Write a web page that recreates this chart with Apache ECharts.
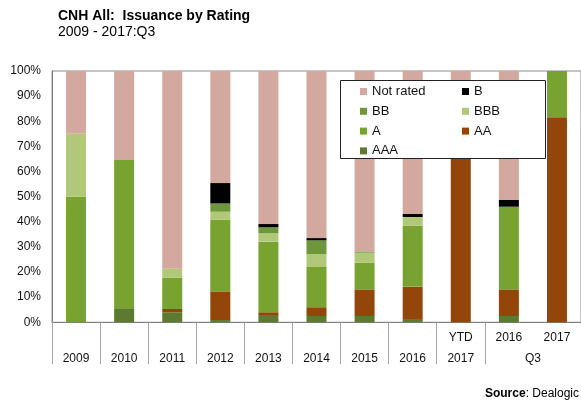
<!DOCTYPE html>
<html>
<head>
<meta charset="utf-8">
<script src="https://cdn.jsdelivr.net/npm/echarts@6/dist/echarts.min.js"></script>
<style>
  html, body { margin: 0; padding: 0; background: #fff; }
  #chart { width: 581px; height: 403px; }
</style>
</head>
<body>
<div id="chart"></div>
<script>
// Categories (issuance periods)
const categories = ['2009', '2010', '2011', '2012', '2013', '2014', '2015', '2016', '2017 YTD', '2016 Q3', '2017 Q3'];
// Two-row axis labels
const topRow    = ['', '', '', '', '', '', '', '', 'YTD', '2016', '2017'];
const bottomRow = ['2009', '2010', '2011', '2012', '2013', '2014', '2015', '2016', '2017', '', ''];
const groupLabel = 'Q3';

// Share of issuance by rating, % of total
const aaa      = [0, 5.6, 4.0, 0.9, 2.9, 2.5, 2.5, 1.3, 0, 2.5, 0];
const aa       = [0, 0, 1.3, 11.4, 1.1, 3.5, 10.6, 12.9, 88, 10.6, 81.6];
const a        = [50, 59, 12.5, 28.5, 28.1, 16, 10.6, 24.2, 0, 32.9, 18.4];
const bbb      = [25, 0, 3.5, 3.2, 3.3, 5.1, 4.0, 3.5, 0, 0, 0];
const bb       = [0, 0, 0, 3.3, 2.4, 5.5, 0.3, 0, 0, 0, 0];
const b        = [0, 0, 0, 8.1, 1.3, 0.9, 0, 1.2, 0, 2.7, 0];
const notRated = [25, 35.4, 78.7, 44.6, 60.9, 66.5, 72.0, 56.9, 12, 51.3, 0];

const yTicks = { min: 0, max: 100, interval: 10 };

const FONT = "'Liberation Sans', Arial, sans-serif";

const stackDefs = [
  { name: 'AAA', data: aaa, color: '#5C7A30' },
  { name: 'AA', data: aa, color: '#944509' },
  { name: 'A', data: a, color: '#78A330' },
  { name: 'BBB', data: bbb, color: '#B1C878' },
  { name: 'BB', data: bb, color: '#6E963B' },
  { name: 'B', data: b, color: '#000000' },
  { name: 'Not rated', data: notRated, color: '#D3A99F' }
];

const chart = echarts.init(document.getElementById('chart'), null, { renderer: 'canvas' });

const legendCommon = {
  orient: 'vertical',
  top: 84.5,
  padding: 0,
  itemWidth: 7,
  itemHeight: 7,
  itemGap: 5.8,
  icon: 'rect',
  selectedMode: false,
  z: 20,
  textStyle: { fontFamily: FONT, fontSize: 13, color: '#111', lineHeight: 14 }
};

chart.setOption({
  animation: false,
  title: [
    {
      text: 'CNH All:  Issuance by Rating',
      subtext: '2009 - 2017:Q3',
      left: 58,
      top: 9,
      padding: 0,
      itemGap: 2,
      textStyle: { fontFamily: FONT, fontSize: 14, fontWeight: 'bold', color: '#000' },
      subtextStyle: { fontFamily: FONT, fontSize: 14, color: '#000' }
    },
    {
      text: '{b|Source}: Dealogic',
      right: 2,
      top: 388,
      padding: 0,
      textStyle: {
        fontFamily: FONT, fontSize: 12, fontWeight: 'normal', color: '#000',
        rich: { b: { fontFamily: FONT, fontSize: 12, fontWeight: 'bold', color: '#000' } }
      }
    }
  ],
  grid: {
    left: 52, top: 71, width: 535.7, height: 251.3,
    show: true, borderColor: '#8c8c8c', borderWidth: 1, backgroundColor: 'transparent'
  },
  legend: [
    Object.assign({}, legendCommon, { left: 360, data: ['Not rated', 'BB', 'A', 'AAA'] }),
    Object.assign({}, legendCommon, { left: 462, data: ['B', 'BBB', 'AA'] })
  ],
  xAxis: {
    type: 'category',
    data: categories,
    boundaryGap: true,
    axisLine: { lineStyle: { color: '#7f7f7f', width: 1 } },
    axisTick: {
      show: true,
      length: 42,
      // Q3 2016 and Q3 2017 share one group, so no divider between them
      interval: function (index) { return index !== 10; },
      lineStyle: { color: '#a6a6a6', width: 1 }
    },
    axisLabel: {
      interval: 0,
      margin: 4.5,
      fontFamily: FONT,
      fontSize: 12,
      lineHeight: 21.5,
      color: '#111',
      formatter: function (value, index) { return topRow[index] + '\n' + bottomRow[index]; }
    }
  },
  yAxis: {
    type: 'value',
    min: yTicks.min,
    max: yTicks.max,
    interval: yTicks.interval,
    axisLine: { show: true, lineStyle: { color: '#7f7f7f', width: 1 } },
    axisTick: { show: false },
    splitLine: { show: false },
    axisLabel: {
      margin: 11,
      fontFamily: FONT,
      fontSize: 12,
      color: '#111',
      formatter: '{value}%'
    }
  },
  series: stackDefs.map(function (s) {
    return {
      name: s.name,
      type: 'bar',
      stack: 'rating',
      barWidth: 20,
      data: s.data,
      itemStyle: { color: s.color },
      emphasis: { disabled: true }
    };
  })
});

// Legend frame and the "Q3" group label under the last two columns
const c9 = chart.convertToPixel({ xAxisIndex: 0 }, categories[9]);
const c10 = chart.convertToPixel({ xAxisIndex: 0 }, categories[10]);
const axisBottom = chart.convertToPixel({ yAxisIndex: 0 }, 0);

chart.setOption({
  graphic: [
    {
      type: 'rect',
      z: 10,
      shape: { x: 340.5, y: 80.5, width: 205, height: 78 },
      style: { fill: '#fff', stroke: '#222', lineWidth: 1 }
    },
    {
      type: 'text',
      z: 10,
      x: (c9 + c10) / 2,
      y: axisBottom + 4.5 + 21.5 + 10.75,
      style: {
        text: groupLabel,
        fontFamily: FONT,
        fontSize: 12,
        fill: '#111',
        align: 'center',
        verticalAlign: 'middle'
      }
    }
  ]
});
</script>
</body>
</html>
